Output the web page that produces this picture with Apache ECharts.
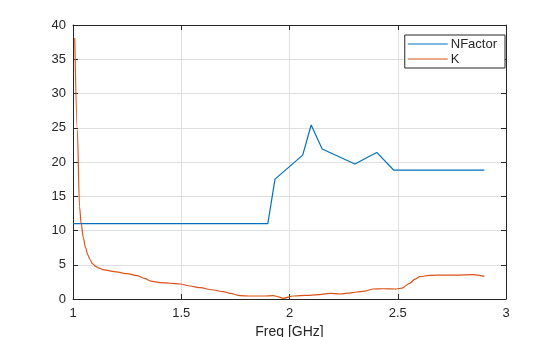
<!DOCTYPE html>
<html>
<head>
<meta charset="utf-8">
<script src="https://cdn.jsdelivr.net/npm/echarts@6/dist/echarts.min.js"></script>
<style>html,body{margin:0;padding:0;background:#fff;}#c{width:560px;height:337px;}</style>
</head>
<body>
<div id="c"></div>
<script>
const xTicks = [1, 1.5, 2, 2.5, 3];
const yTicks = [0, 5, 10, 15, 20, 25, 30, 35, 40];
const seriesNames = ['NFactor', 'K'];
const freqNF = [1, 1.9, 1.933, 2.061, 2.1, 2.151, 2.302, 2.403, 2.482, 2.9];
const nfactor = [11, 11, 17.5, 21.0, 25.4, 21.9, 19.7, 21.4, 18.8, 18.8];
const freqK = [1.008, 1.02, 1.03, 1.038, 1.048, 1.058, 1.068, 1.078, 1.09, 1.105, 1.12, 1.142, 1.2, 1.25, 1.296, 1.33, 1.36, 1.403, 1.45, 1.495, 1.54, 1.588, 1.64, 1.695, 1.726, 1.772, 1.82, 1.879, 1.925, 1.95, 1.971, 2.017, 2.05, 2.094, 2.14, 2.187, 2.233, 2.27, 2.31, 2.35, 2.386, 2.432, 2.494, 2.52, 2.555, 2.58, 2.601, 2.647, 2.7, 2.77, 2.85, 2.9];
const kValues = [38.1, 24.7, 13.5, 11.0, 8.9, 7.5, 6.5, 5.8, 5.15, 4.75, 4.5, 4.25, 3.95, 3.7, 3.4, 3.0, 2.6, 2.38, 2.3, 2.19, 1.9, 1.65, 1.35, 1.07, 0.83, 0.49, 0.44, 0.44, 0.49, 0.3, 0.1, 0.44, 0.5, 0.54, 0.65, 0.83, 0.73, 0.85, 1.02, 1.15, 1.46, 1.5, 1.46, 1.6, 2.29, 2.9, 3.26, 3.45, 3.5, 3.5, 3.55, 3.3];

const chart = echarts.init(document.getElementById('c'), null, {renderer: 'canvas'});
const axisColor = '#262626';
const gridColor = '#dfdfdf';
const font = 'Liberation Sans, Arial, sans-serif';
function baseX(show) {
  return {
    type: 'value', min: xTicks[0], max: xTicks[xTicks.length - 1], interval: 0.5,
    axisLine: {show: true, onZero: false, lineStyle: {color: axisColor, width: 1}},
    axisTick: {show: true, inside: true, length: 5, lineStyle: {color: axisColor}},
    axisLabel: {show: show, color: axisColor, fontSize: 13, fontFamily: font, margin: 8},
    splitLine: {show: show, lineStyle: {color: gridColor, width: 1}}
  };
}
function baseY(show) {
  return {
    type: 'value', min: yTicks[0], max: yTicks[yTicks.length - 1], interval: 5,
    axisLine: {show: true, onZero: false, lineStyle: {color: axisColor, width: 1}},
    axisTick: {show: true, inside: true, length: 5, lineStyle: {color: axisColor}},
    axisLabel: {show: show, color: axisColor, fontSize: 13, fontFamily: font, margin: 7},
    splitLine: {show: show, lineStyle: {color: gridColor, width: 1}}
  };
}
const xb = baseX(true);
xb.name = 'Freq [GHz]';
xb.nameLocation = 'middle';
xb.nameGap = 24;
xb.nameTextStyle = {color: axisColor, fontSize: 14, fontFamily: font};
const xt = baseX(false); xt.position = 'top';
const yl = baseY(true);
const yr = baseY(false); yr.position = 'right';

chart.setOption({
  animation: false,
  backgroundColor: '#ffffff',
  grid: {left: 73, right: 54, top: 25, bottom: 38, containLabel: false, outerBoundsMode: 'none'},
  xAxis: [xb, xt],
  yAxis: [yl, yr],
  legend: {
    data: seriesNames.map(n => ({name: n, icon: 'rect'})),
    orient: 'vertical', right: 55, top: 35,
    itemWidth: 40, itemHeight: 1, itemGap: 1,
    padding: [2, 8, 2, 3],
    borderColor: axisColor, borderWidth: 1, backgroundColor: '#fff',
    textStyle: {color: axisColor, fontSize: 13, fontFamily: font, padding: [0, 0, 0, -2], lineHeight: 14}
  },
  series: [
    {name: seriesNames[0], type: 'line', xAxisIndex: 0, yAxisIndex: 0, showSymbol: false,
     data: freqNF.map((x, i) => [x, nfactor[i]]),
     lineStyle: {color: '#0072BD', width: 1.2}, itemStyle: {color: '#0072BD'}},
    {name: seriesNames[1], type: 'line', xAxisIndex: 0, yAxisIndex: 0, showSymbol: false,
     smooth: 0.3, smoothMonotone: 'x',
     data: freqK.map((x, i) => [x, kValues[i]]),
     lineStyle: {color: '#D95319', width: 1.2}, itemStyle: {color: '#D95319'}}
  ]
});
</script>
</body>
</html>
